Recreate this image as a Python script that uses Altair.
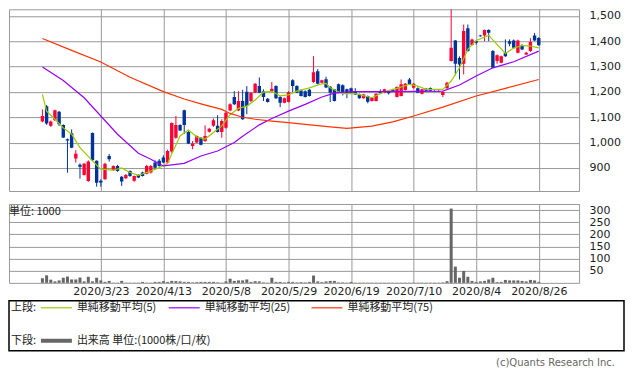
import json
import altair as alt
import pandas as pd

# ---------------- data ----------------
opens = [1083,1143,1066,1088,1122,1069,1013,1037,937,913,872,848,1038,928,849,855,947,892,908,865,
         859,888,849,872,882,877,882,921,928,941,921,965,1019,1069,1128,1042,987,1000,1019,1006,
         1043,1066,1066,1042,1059,1127,1180,1127,1164,1201,1164,1197,1223,1203,1173,1203,1223,1180,1157,1160,
         1246,1223,1206,1203,1209,1239,1282,1236,1250,1220,1210,1230,1226,1210,1214,1203,1190,1175,1184,1164,
         1164,1203,1197,1203,1209,1180,1184,1208,1249,1216,1214,1193,1212,1215,1204,1204,1188,1214,1322,1403,
         1334,1311,1451,1385,1400,1423,1423,1444,1361,1322,1315,1355,1400,1403,1355,1383,1348,1361,1423,1413]
highs = [1131,1148,1087,1130,1125,1072,1016,1052,970,918,920,930,1040,930,855,920,955,910,912,868,
         876,890,870,875,885,912,912,930,935,950,972,1080,1105,1072,1130,1045,1006,1028,1022,1068,
         1058,1095,1108,1092,1120,1155,1203,1203,1208,1223,1200,1235,1257,1210,1176,1239,1226,1183,1178,1203,
         1250,1226,1209,1206,1212,1341,1290,1248,1260,1223,1212,1233,1230,1213,1217,1215,1193,1192,1186,1180,
         1195,1210,1212,1205,1212,1222,1249,1235,1255,1235,1218,1212,1215,1218,1206,1206,1203,1240,1534,1405,
         1340,1466,1466,1410,1402,1425,1446,1447,1365,1348,1343,1407,1407,1407,1406,1388,1358,1412,1433,1416]
lows = [1080,1070,1062,1085,1065,1018,881,978,921,858,870,845,928,826,826,853,925,888,885,829,
        856,865,845,860,866,875,878,895,905,918,918,960,1015,1045,1034,994,974,998,989,1003,
        1040,1062,1040,1019,1055,1124,1148,1124,1090,1112,1160,1195,1195,1164,1158,1200,1172,1140,1155,1158,
        1199,1195,1182,1178,1182,1236,1230,1234,1215,1160,1162,1195,1186,1175,1195,1188,1173,1173,1155,1162,
        1162,1193,1195,1190,1200,1178,1182,1205,1228,1213,1195,1190,1203,1203,1200,1200,1180,1212,1320,1266,
        1249,1269,1358,1383,1387,1418,1400,1400,1293,1311,1313,1338,1380,1372,1352,1365,1346,1358,1400,1382]
closes = [1105,1075,1083,1128,1072,1020,1008,980,956,905,917,925,930,842,843,917,934,908,888,846,
          872,868,868,862,868,908,908,901,908,921,967,1077,1069,1048,1069,996,996,1026,991,1026,
          1055,1088,1042,1085,1118,1151,1151,1164,1092,1144,1197,1232,1197,1180,1160,1212,1175,1157,1175,1199,
          1223,1197,1184,1180,1184,1278,1232,1246,1217,1197,1164,1197,1200,1193,1197,1190,1175,1190,1161,1177,
          1193,1195,1210,1195,1203,1219,1230,1232,1230,1232,1197,1210,1205,1205,1202,1202,1200,1236,1374,1311,
          1308,1440,1361,1407,1394,1420,1444,1433,1295,1345,1341,1341,1390,1374,1403,1367,1355,1397,1403,1384]
volumes = [19,31,13,6,10,21,26,14,14,22,6,25,6,21,10,4,8,1,1,8,
           1,1,1,1,4,1,1,4,4,7,4,8,7,6,4,4,2,3,4,4,
           4,4,2,1,6,17,8,10,10,14,4,7,6,2,1,21,4,4,2,4,
           4,2,3,2,4,30,6,3,6,8,8,2,2,1,4,1,1,1,1,1,
           1,1,1,1,1,1,1,1,1,1,1,1,1,1,1,1,2,7,306,67,
           21,49,25,8,4,6,8,14,21,3,4,12,10,10,10,8,6,12,10,4]

ma5_idx = [0,1,3,5,7,9,12,14,17,19,21,23,26,28,30,31,33,35,37,39,41,43,45,47,49,51,53,55,57,59,
           61,64,67,68,69,72,75,79,82,85,88,90,92,96,98,100,102,104,107,111,113,115,117,119]
ma5_val = [1190,1124,1092,1058,1033,980,928,895,891,900,882,871,888,901,918,955,1026,1050,1022,1014,
           1040,1066,1110,1135,1144,1168,1199,1202,1184,1188,1203,1216,1232,1234,1216,1193,1193,1177,1201,1214,
           1230,1223,1210,1210,1243,1295,1368,1403,1423,1352,1373,1383,1381,1374]
ma25_idx = [0,5,10,14,18,23,26,29,34,38,42,46,48,52,55,59,63,67,70,74,84,96,100,104,108,113,119]
ma25_val = [1298,1245,1177,1105,1033,958,934,908,918,947,967,1000,1025,1070,1095,1124,1151,1180,1195,1201,
            1201,1203,1227,1263,1295,1319,1361]
ma75_idx = [0,7,14,21,29,34,38,43,45,48,51,55,59,63,69,73,79,84,89,96,104,111,119]
ma75_val = [1411,1364,1318,1258,1201,1172,1153,1131,1115,1100,1092,1085,1079,1072,1062,1056,1065,1082,1105,
            1140,1184,1214,1249]

tick_idx = [14, 29, 44, 59, 74, 89, 104, 119]
tick_labels = ["2020/3/23", "2020/4/13", "2020/5/8", "2020/5/29",
               "2020/6/19", "2020/7/10", "2020/8/4", "2020/8/26"]
price_ticks = [900, 1000, 1100, 1200, 1300, 1400, 1500]
vol_ticks = [50, 100, 150, 200, 250, 300]
legend_labels = ["単純移動平均(5)", "単純移動平均(25)", "単純移動平均(75)"]
legend_colors = ["#99CC00", "#9900FF", "#FF3300"]

# ---------------- styling ----------------
UP, DOWN = "#FF0033", "#003399"
GRID = "#999999"
W = 571
XDOM = [-6.82, 127.47]
CJK = "Noto Sans CJK JP"

df = pd.DataFrame({"i": list(range(len(opens))), "open": opens, "high": highs,
                   "low": lows, "close": closes, "vol": volumes})
df["dir"] = ["up" if c >= o else "down" for o, c in zip(opens, closes)]

ma_df = pd.concat([
    pd.DataFrame({"i": ma5_idx, "v": ma5_val, "s": "ma5"}),
    pd.DataFrame({"i": ma25_idx, "v": ma25_val, "s": "ma25"}),
    pd.DataFrame({"i": ma75_idx, "v": ma75_val, "s": "ma75"}),
])

xscale = alt.Scale(domain=XDOM, nice=False, zero=False)
xaxis_main = alt.Axis(values=tick_idx, grid=True, labels=False, ticks=False, domain=False)
y_price = alt.Scale(domain=[809, 1526], nice=False, zero=False)
y_axis = alt.Axis(orient="right", values=price_ticks, format=",d", grid=True, ticks=False,
                  domain=False, labelPadding=10, labelOverlap=False)
color = alt.Color("dir:N", scale=alt.Scale(domain=["up", "down"], range=[UP, DOWN]), legend=None)

base = alt.Chart(df)
wicks = base.mark_rule(strokeWidth=1, clip=True).encode(
    x=alt.X("i:Q", scale=xscale, axis=xaxis_main, title=None),
    y=alt.Y("low:Q", scale=y_price, axis=y_axis, title=None), y2="high:Q", color=color)
bodies = base.mark_bar(size=3.4, clip=True).encode(
    x=alt.X("i:Q", scale=xscale, axis=xaxis_main, title=None),
    y=alt.Y("open:Q", scale=y_price, axis=y_axis, title=None), y2="close:Q", color=color)
lines = alt.Chart(ma_df).mark_line(strokeWidth=1.2, clip=True).encode(
    x=alt.X("i:Q", scale=xscale, axis=xaxis_main, title=None),
    y=alt.Y("v:Q", scale=y_price, axis=y_axis, title=None),
    stroke=alt.Stroke("s:N", scale=alt.Scale(domain=["ma5", "ma25", "ma75"], range=legend_colors),
                      legend=None),
    detail="s:N")

main = alt.layer(wicks, bodies, lines).properties(width=W, height=182)

label_expr = json.dumps(tick_labels) + f"[round((datum.value - {tick_idx[0]}) / 15)]"
vbars = alt.Chart(df).mark_bar(size=3, color="#666666").encode(
    x=alt.X("i:Q", scale=xscale, title=None,
            axis=alt.Axis(values=tick_idx, grid=True, ticks=False, domain=False,
                          labelExpr=label_expr, labelPadding=3)),
    y=alt.Y("vol:Q", scale=alt.Scale(domain=[0, 325], nice=False), title=None,
            axis=alt.Axis(orient="right", values=vol_ticks, format="d", grid=True, ticks=False,
                          domain=False, labelPadding=10, labelOverlap=False)))
unit_txt = alt.Chart(pd.DataFrame({"a": [0]})).mark_text(
    align="left", baseline="middle", font=CJK, fontSize=11, color="#222").encode(
    x=alt.value(0), y=alt.value(8), text=alt.value("単位: 1000"))
volume = alt.layer(vbars, unit_txt).properties(width=W, height=79)

# ---------------- legend box ----------------
one = pd.DataFrame({"a": [0]})
def txt(s, x, y, size=11, color="#222", align="left", font=CJK):
    return alt.Chart(one).mark_text(align=align, baseline="middle", font=font,
                                    fontSize=size, color=color).encode(
        x=alt.value(x), y=alt.value(y), text=alt.value(s))
def seg(x1, x2, y, c, w):
    return alt.Chart(one).mark_rule(color=c, strokeWidth=w).encode(
        x=alt.value(x1), x2=alt.value(x2), y=alt.value(y))

leg_layers = [txt("上段:", 2, 7)]
for k, (lab, col) in enumerate(zip(legend_labels, legend_colors)):
    x0 = [32, 160, 303][k]
    leg_layers.append(seg(x0, x0 + 31, 7, col, 1.2))
    leg_layers.append(txt(lab, x0 + 36, 7))
leg_layers += [txt("下段:", 2, 40), seg(32, 63, 40, "#666666", 4),
               txt("出来高 単位:(1000株/口/枚)", 68, 40),
               txt("(c)Quants Research Inc.", 607, 62, size=10, color="#666666",
                   align="right", font="DejaVu Sans")]
legend = alt.layer(*leg_layers).properties(
    width=616, height=50, view=alt.ViewBackground(stroke="black", strokeWidth=1.5))

chart = alt.vconcat(
    alt.vconcat(main, volume, spacing=11),
    legend, spacing=2
).properties(padding={"left": 0, "top": 0, "right": 0, "bottom": 0}, background="white"
).configure_view(stroke=GRID, strokeWidth=1
).configure_axis(labelFont="DejaVu Sans", labelFontSize=11, labelColor="#222",
                 gridColor=GRID, gridWidth=1, gridOpacity=1)

chart.save("out.html", embed_options={"renderer": "svg", "actions": False})
